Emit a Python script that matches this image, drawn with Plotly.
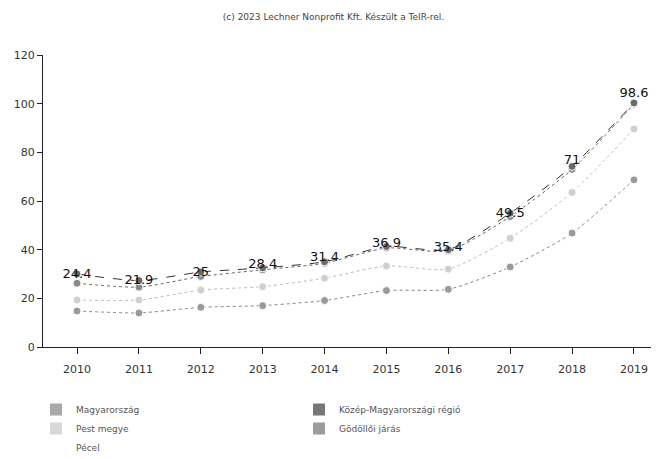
import plotly.graph_objects as go

years = [2010, 2011, 2012, 2013, 2014, 2015, 2016, 2017, 2018, 2019]
kozep = [30.0, 27.3, 30.8, 32.5, 35.0, 41.3, 40.0, 55.0, 74.2, 100.3]
magyar = [26.2, 24.6, 29.0, 31.7, 34.4, 40.7, 39.5, 53.6, 73.0, 99.8]
pest = [19.3, 19.3, 23.4, 24.8, 28.3, 33.3, 32.0, 44.7, 63.5, 89.6]
godollo = [14.8, 14.0, 16.3, 17.0, 19.1, 23.2, 23.7, 32.9, 46.8, 68.7]
pecel = [24.4, 21.9, 25, 28.4, 31.4, 36.9, 35.4, 49.5, 71, 98.6]
pecel_labels = ["24.4", "21.9", "25", "28.4", "31.4", "36.9", "35.4", "49.5", "71", "98.6"]

series = [
    ("Magyarország", magyar, "#8a8a8a", "#666666", "dot"),
    ("Közép-Magyarországi régió", kozep, "#6a6a6a", "#333333", "dash"),
    ("Pest megye", pest, "#cfcfcf", "#bbbbbb", "dot"),
    ("Gödöllői járás", godollo, "#9a9a9a", "#888888", "dot"),
]

fig = go.Figure()
for name, vals, mcol, lcol, dash in series:
    fig.add_trace(go.Scatter(
        x=years, y=vals, mode="lines+markers", name=name, showlegend=False,
        line=dict(color=lcol, width=1, dash=dash, shape="spline", smoothing=0.6),
        marker=dict(color=mcol, size=8, symbol="circle",
                    line=dict(color="#ffffff", width=1)),
        legendgroup=name,
    ))

fig.add_trace(go.Scatter(
    x=years, y=pecel, mode="markers+text", text=pecel_labels, textposition="top center",
    textfont=dict(family="DejaVu Sans", size=13, color="#111111"),
    marker=dict(size=9, color="rgba(0,0,0,0)"),
    showlegend=False, name="Pécel",
))

# legend swatches (square)
legend_items = [
    ("Magyarország", "#a8a8a8"),
    ("Közép-Magyarországi régió", "#777777"),
    ("Pest megye", "#d8d8d8"),
    ("Gödöllői járás", "#9c9c9c"),
    ("Pécel", "#ffffff"),
]
for name, col in legend_items:
    fig.add_trace(go.Scatter(
        x=[None], y=[None], mode="markers", name=name, legendgroup=name,
        marker=dict(symbol="square", size=14, color=col),
    ))

fig.update_layout(
    width=651, height=451,
    paper_bgcolor="white", plot_bgcolor="white",
    margin=dict(l=35, r=4, t=47, b=112, autoexpand=False),
    font=dict(family="DejaVu Sans", size=10, color="#333333"),
    title=dict(text="(c) 2023 Lechner Nonprofit Kft. Készült a TeIR-rel.",
               x=0.5, xanchor="center", y=0.980, yanchor="middle",
               font=dict(size=9, color="#444444")),
    legend=dict(orientation="h", x=-0.0114, xanchor="left",
                y=-0.1644, yanchor="top",
                entrywidth=218, entrywidthmode="pixels", tracegroupgap=0,
                font=dict(size=9, color="#555555"), itemsizing="constant",
                bgcolor="rgba(0,0,0,0)"),
    xaxis=dict(range=[2009.45, 2019.34], tickmode="array", tickvals=years,
               ticktext=[str(y) for y in years], showgrid=False, zeroline=False,
               showline=True, linecolor="#222222", linewidth=1, automargin=False,
               ticks="outside", ticklen=6, tickcolor="#222222",
               ticklabelstandoff=6,
               tickfont=dict(size=11, color="#333333")),
    yaxis=dict(range=[0, 120], tickvals=[0, 20, 40, 60, 80, 100, 120],
               showgrid=False, zeroline=False, showline=True, automargin=False,
               linecolor="#222222", linewidth=1, ticks="outside", ticklen=5,
               tickcolor="#222222", tickfont=dict(size=11, color="#333333")),
)

fig.write_html("out.html")
